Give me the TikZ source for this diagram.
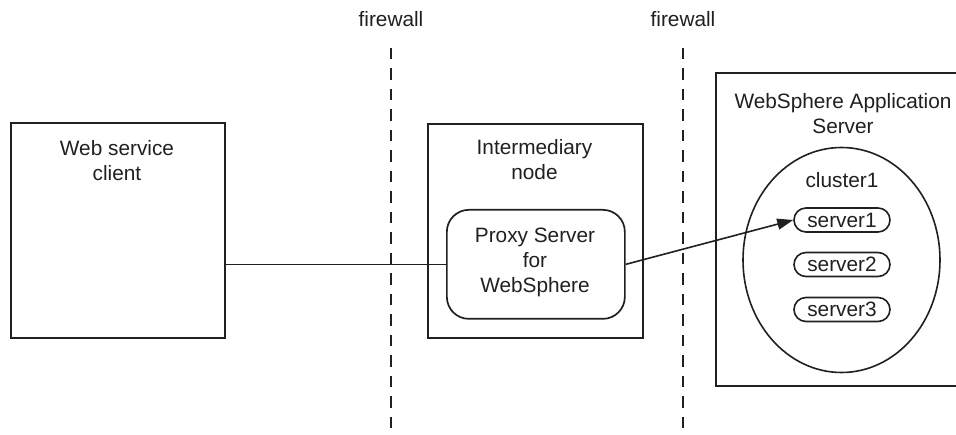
\documentclass[tikz,border=0pt]{standalone}
\usepackage{fontspec}
\setmainfont{Liberation Sans}
\usetikzlibrary{shapes.geometric,arrows.meta}
\definecolor{ink}{HTML}{231F20}
\begin{document}
\begin{tikzpicture}[x=1pt,y=-1pt,
  every node/.style={font=\fontsize{20.8}{25}\selectfont, text=ink},
  box/.style={draw=ink, line width=1.7pt, rectangle, inner sep=0pt},
  roundbox/.style={box, rounded corners=22pt},
  pill/.style={draw=ink, line width=1.6pt, rounded corners=12pt, minimum width=96pt, minimum height=24pt, inner sep=0pt},
  lbl/.style={align=center, inner sep=0pt, anchor=base},
  fwline/.style={draw=ink, line width=2.2pt, dash pattern=on 11.5pt off 9pt},
  conn/.style={draw=ink, line width=1.6pt}
]
\clip (0,0) rectangle (956,435);
\fill[white] (0,0) rectangle (956,435);

% firewalls
\node[lbl] (fw1lbl) at (391,27) {firewall};
\node[lbl] (fw2lbl) at (683,27) {firewall};
\coordinate (fw1top) at (391,48);
\coordinate (fw1bot) at (391,440);
\coordinate (fw2top) at (683,48);
\coordinate (fw2bot) at (683,440);
\draw[fwline] (fw1top) -- (fw1bot);
\draw[fwline] (fw2top) -- (fw2bot);

% client
\node[box, minimum width=214pt, minimum height=215pt, anchor=north west] (client) at (10,122) {};
\node[lbl] (clientT) at (117,181) {Web service\\client};

% intermediary
\node[box, minimum width=215pt, minimum height=214pt, anchor=north west] (inter) at (427,123) {};
\node[lbl] (interT) at (534.5,180) {Intermediary\\node};
\node[roundbox, minimum width=178pt, minimum height=109pt, anchor=north west] (proxy) at (446,209) {};
\node[lbl] (proxyT) at (535,293) {Proxy Server\\for\\WebSphere};

% WAS
\node[box, minimum width=300pt, minimum height=313pt, anchor=north west] (was) at (715,72) {};
\node[lbl] (wasT) at (843,134) {WebSphere Application\\Server};
\node[draw=ink, line width=1.6pt, ellipse, minimum width=197pt, minimum height=225pt, inner sep=0pt] (cluster) at (841.5,260) {};
\node[lbl] (clusterT) at (842,188) {cluster1};
\node[pill] (s1) at (842,220) {server1};
\node[pill] (s2) at (842,264.5) {server2};
\node[pill] (s3) at (842,309.5) {server3};

% connectors
\draw[conn] (proxy.west -| client.east) -- (proxy.west);
\draw[conn, -{Triangle[length=16pt,width=11pt]}] (proxy.east) -- (s1.west);
\end{tikzpicture}
\end{document}
